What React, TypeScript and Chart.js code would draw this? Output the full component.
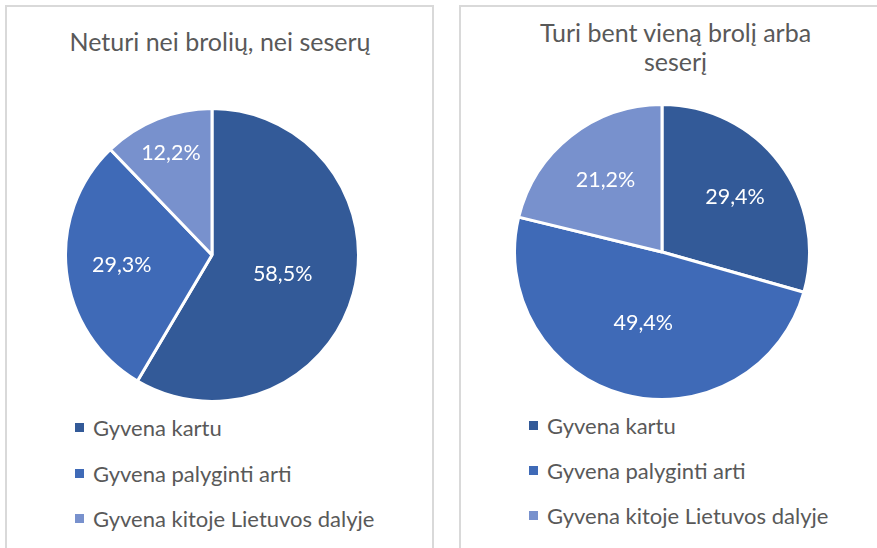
import React, { useEffect, useRef } from "react";
import { Chart, registerables } from "chart.js";

Chart.register(...registerables);

const categories = ["Gyvena kartu", "Gyvena palyginti arti", "Gyvena kitoje Lietuvos dalyje"];
const noSiblingsValues = [58.5, 29.3, 12.2];
const withSiblingsValues = [29.4, 49.4, 21.2];
const noSiblingsTitle = ["Neturi nei brolių, nei seserų"];
const withSiblingsTitle = ["Turi bent vieną brolį arba", "seserį"];
const sliceColors = ["#335A98", "#3F6AB7", "#7891CD"];

const FONT = "Lato, 'Open Sans', sans-serif";
const TEXT_COLOR = "#595959";
const LABEL_SIZE = 21.5;

const fmt = (v: number) => v.toFixed(1).replace(".", ",") + "%";

const pieLabels = {
  id: "pieLabels",
  afterDatasetsDraw(chart: any) {
    const ctx = chart.ctx;
    const meta = chart.getDatasetMeta(0);
    const data = chart.data.datasets[0].data as number[];
    ctx.save();
    ctx.fillStyle = "#ffffff";
    ctx.font = `${LABEL_SIZE}px ${FONT}`;
    ctx.textAlign = "center";
    ctx.textBaseline = "middle";
    meta.data.forEach((arc: any, i: number) => {
      const p = arc.getProps(["x", "y", "startAngle", "endAngle", "outerRadius"], true);
      const v = data[i];
      const f = v >= 40 ? 0.5 : v >= 20 ? 0.62 : 0.75;
      const mid = (p.startAngle + p.endAngle) / 2;
      ctx.fillText(fmt(v), p.x + Math.cos(mid) * p.outerRadius * f, p.y + Math.sin(mid) * p.outerRadius * f);
    });
    ctx.restore();
  },
};

function PieCanvas({ values, radius, left, top }: { values: number[]; radius: number; left: number; top: number }) {
  const ref = useRef<HTMLCanvasElement | null>(null);
  useEffect(() => {
    if (!ref.current) return;
    const chart = new Chart(ref.current, {
      type: "pie",
      data: {
        labels: categories,
        datasets: [
          {
            data: values,
            backgroundColor: sliceColors,
            borderColor: "#ffffff",
            borderWidth: 3,
            hoverOffset: 0,
            radius: radius,
          } as any,
        ],
      },
      options: {
        responsive: false,
        animation: false,
        events: [],
        layout: { padding: 0 },
        plugins: {
          legend: { display: false },
          title: { display: false },
          tooltip: { enabled: false },
        },
      },
      plugins: [pieLabels],
    });
    return () => chart.destroy();
  }, [values, radius]);
  return (
    <canvas
      ref={ref}
      width={300}
      height={300}
      style={{ position: "absolute", left, top, width: 300, height: 300 }}
    />
  );
}

function Title({ lines, centerX, top }: { lines: string[]; centerX: number; top: number }) {
  return (
    <div
      style={{
        position: "absolute",
        left: centerX - 200,
        top,
        width: 400,
        textAlign: "center",
        fontFamily: FONT,
        fontSize: 25,
        lineHeight: "29px",
        color: TEXT_COLOR,
      }}
    >
      {lines.map((l, i) => (
        <div key={i}>{l}</div>
      ))}
    </div>
  );
}

function Legend({ left, rowCenters }: { left: number; rowCenters: number[] }) {
  return (
    <>
      {categories.map((c, i) => (
        <div
          key={c}
          style={{
            position: "absolute",
            left,
            top: rowCenters[i] - 14,
            height: 28,
            display: "flex",
            alignItems: "center",
            fontFamily: FONT,
            fontSize: 22,
            color: TEXT_COLOR,
            whiteSpace: "nowrap",
          }}
        >
          <span style={{ display: "inline-block", width: 9, height: 9, background: sliceColors[i], marginRight: 9 }} />
          <span>{c}</span>
        </div>
      ))}
    </>
  );
}

export default function App() {
  return (
    <div
      style={{
        position: "fixed",
        left: 0,
        top: 0,
        width: 877,
        height: 548,
        overflow: "hidden",
        background: "#ffffff",
      }}
    >
      <div
        style={{
          position: "absolute",
          left: 5,
          top: 5,
          width: 429,
          height: 600,
          border: "2px solid #d9d9d9",
          boxSizing: "border-box",
        }}
      />
      <div
        style={{
          position: "absolute",
          left: 459,
          top: 5,
          width: 500,
          height: 600,
          border: "2px solid #d9d9d9",
          boxSizing: "border-box",
        }}
      />
      <Title lines={noSiblingsTitle} centerX={220} top={26.5} />
      <Title lines={withSiblingsTitle} centerX={675.5} top={17.5} />
      <PieCanvas values={noSiblingsValues} radius={146.5} left={62} top={105} />
      <PieCanvas values={withSiblingsValues} radius={147.5} left={512} top={102} />
      <Legend left={75} rowCenters={[427.5, 473, 518]} />
      <Legend left={529} rowCenters={[425, 470, 515]} />
    </div>
  );
}
